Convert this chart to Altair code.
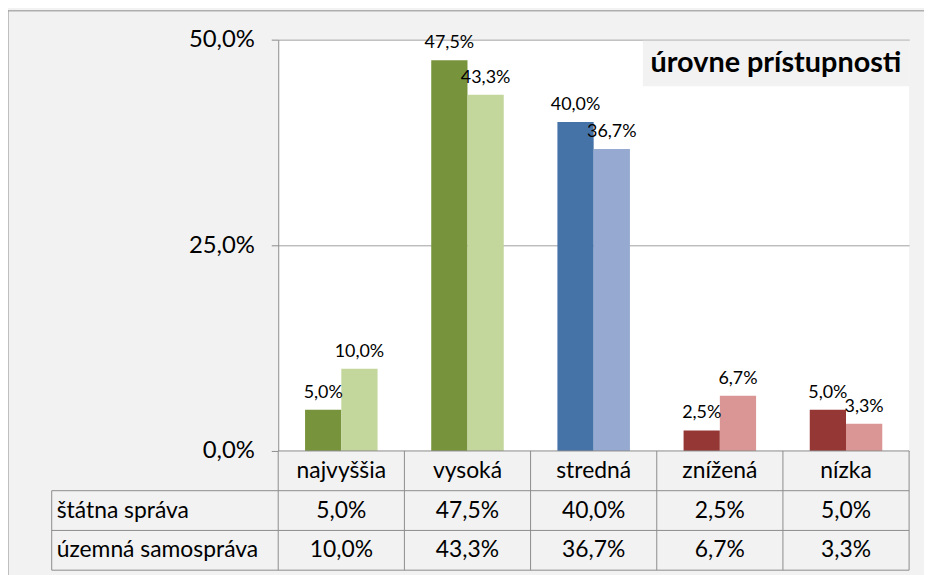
import altair as alt
import pandas as pd

# ---------------- data ----------------
CATEGORIES = ["najvyššia", "vysoká", "stredná", "znížená", "nízka"]
SERIES = ["štátna správa", "územná samospráva"]
STATNA = [5.0, 47.5, 40.0, 2.5, 5.0]
UZEMNA = [10.0, 43.3, 36.7, 6.7, 3.3]
Y_TICKS = [0, 25, 50]
Y_DOMAIN = [0, 50]
TITLE = "úrovne prístupnosti"
HEADER_ROW = "_header"

# ---------------- styles ----------------
DARK = ["#77933C", "#77933C", "#4572A7", "#953735", "#953735"]
LIGHT = ["#C3D69B", "#C3D69B", "#95A9D1", "#D99694", "#D99694"]
BG = "#f2f2f2"
LINE = "#8c8c8c"
FONT = "Lato"

W, H = 635, 534          # view: plot area + data table
PLOT_H = 414             # bar plot part of the view
LABEL_W = 228            # width of the row-label column of the table


def fmt(v):
    return f"{v:.1f}".replace(".", ",") + "%"


rows = []
for i, c in enumerate(CATEGORIES):
    for s, vals, cols in ((SERIES[0], STATNA, DARK), (SERIES[1], UZEMNA, LIGHT)):
        rows.append(dict(cat=c, series=s, value=vals[i], label=fmt(vals[i]),
                         key=f"{c}|{s}", color=cols[i]))
df = pd.DataFrame(rows)
color_domain = list(df["key"])
color_range = list(df["color"])

one = pd.DataFrame({"k": [0]})
df_hdr = pd.DataFrame({"cat": CATEGORIES, "row": HEADER_ROW})
df_rows = pd.DataFrame({"row": SERIES})

x_scale = alt.Scale(domain=CATEGORIES, paddingInner=0, paddingOuter=0)
xoff_scale = alt.Scale(domain=SERIES, paddingInner=0, paddingOuter=0.74)
y_scale = alt.Scale(domain=Y_DOMAIN, range=[PLOT_H, 0], nice=False, zero=True)
row_scale = alt.Scale(domain=[HEADER_ROW] + SERIES, range=[PLOT_H, H],
                      paddingInner=0, paddingOuter=0)

y_axis = alt.Axis(values=Y_TICKS, title=None, grid=True, gridColor="#a0a0a0",
                  domainColor=LINE, tickColor=LINE, tickSize=7,
                  labelExpr="replace(format(datum.value, '.1f'), '.', ',') + '%'",
                  labelFontSize=24, labelPadding=17, labelColor="black",
                  labelFont=FONT)

X = alt.X("cat:N", scale=x_scale, axis=None)
XO = alt.XOffset("series:N", scale=xoff_scale)

# ---------------- bar part ----------------
bars = alt.Chart(df).mark_bar().encode(
    x=X, xOffset=XO,
    y=alt.Y("value:Q", scale=y_scale, axis=y_axis),
    color=alt.Color("key:N", scale=alt.Scale(domain=color_domain, range=color_range),
                    legend=None),
)
labels = alt.Chart(df).mark_text(baseline="bottom", dy=-8, fontSize=18,
                                 font=FONT, color="black").encode(
    x=X, xOffset=XO,
    y=alt.Y("value:Q", scale=y_scale, axis=y_axis),
    text="label:N",
)
bar_part = alt.layer(bars, labels)

# ---------------- data table ----------------
ROW = alt.Y("row:N", scale=row_scale, axis=None)
ROW0 = alt.Y("row:N", scale=row_scale, axis=None, bandPosition=0)

table_bg = alt.Chart(df_hdr.head(1)).mark_rect(color=BG).encode(
    x=alt.value(0), x2=alt.value("width"), y=ROW0, y2=alt.value("height"))
h_rows = alt.Chart(df_rows).mark_rule(color=LINE).encode(
    x=alt.value(-LABEL_W), x2=alt.value("width"), y=ROW0)
h_top = alt.Chart(df_hdr.head(1)).mark_rule(color=LINE).encode(
    x=alt.value(0), x2=alt.value("width"), y=ROW0)
h_bottom = alt.Chart(one).mark_rule(color=LINE).encode(
    x=alt.value(-LABEL_W), x2=alt.value("width"), y=alt.value("height"))
v_cols = alt.Chart(df_hdr).mark_rule(color=LINE).encode(
    x=alt.X("cat:N", scale=x_scale, axis=None, bandPosition=0),
    y=ROW0, y2=alt.value("height"))
v_right = alt.Chart(df_hdr.head(1)).mark_rule(color=LINE).encode(
    x=alt.value("width"), y=ROW0, y2=alt.value("height"))
v_label = alt.Chart(df_rows.head(1)).mark_rule(color=LINE).encode(
    x=alt.value(-LABEL_W), y=ROW0, y2=alt.value("height"))
hdr_text = alt.Chart(df_hdr).mark_text(fontSize=23, font=FONT, color="black").encode(
    x=X, y=ROW, text="cat:N")
cell_text = alt.Chart(df).mark_text(fontSize=23, font=FONT, color="black").encode(
    x=X, y=alt.Y("series:N", scale=row_scale, axis=None), text="label:N")
row_text = alt.Chart(df_rows).mark_text(fontSize=23, font=FONT, color="black",
                                        align="left").encode(
    x=alt.value(-LABEL_W + 5), y=ROW, text="row:N")
table_part = alt.layer(table_bg, h_rows, h_top, h_bottom, v_cols, v_right, v_label,
                       hdr_text, cell_text, row_text)

# ---------------- decorations ----------------
title_box = alt.Chart(one).mark_rect(color=BG).encode(
    x=alt.value(367), x2=alt.value("width"), y=alt.value(1), y2=alt.value(47))
title_text = alt.Chart(one).mark_text(fontSize=29, fontWeight="bold", font=FONT,
                                      color="black", baseline="middle").encode(
    x=alt.value(501), y=alt.value(24), text=alt.value(TITLE))
frame_top = alt.Chart(one).mark_rule(color=LINE).encode(
    x=alt.value(-272), x2=alt.value(650), y=alt.value(-29))
frame_left = alt.Chart(one).mark_rule(color=LINE).encode(
    x=alt.value(-272), y=alt.value(-29), y2=alt.value(560))
decor = alt.layer(title_box, title_text, frame_top, frame_left)

chart = alt.layer(bar_part, table_part, decor).resolve_scale(
    y="independent"
).properties(
    width=W, height=H,
    autosize=alt.AutoSizeParams(type="none"),
    padding={"left": 272, "top": 30, "right": 15, "bottom": 3},
    background=BG,
).configure_view(fill="white", strokeWidth=0)

chart.save("out.html", embed_options={"renderer": "svg", "actions": False})
